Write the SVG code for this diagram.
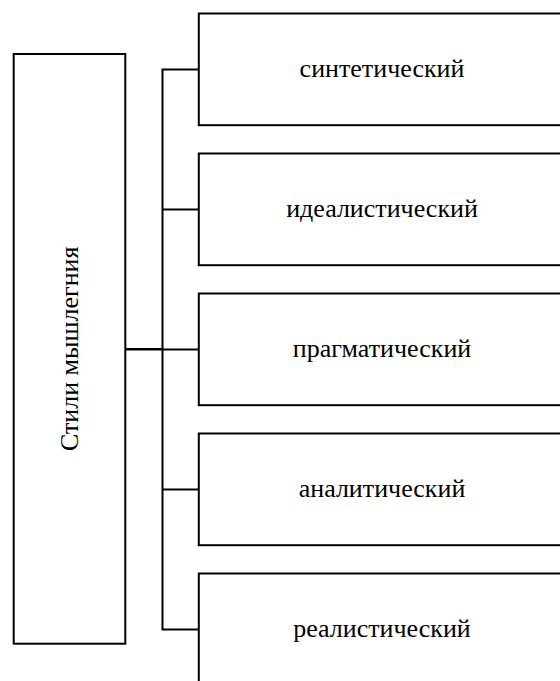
<svg xmlns="http://www.w3.org/2000/svg" width="560" height="681" viewBox="0 0 560 681">
<style>
.box{fill:#fff;stroke:#000;stroke-width:2}
.ln{fill:none;stroke:#000;stroke-width:2}
.t{font-size:26px;fill:#000;text-anchor:middle}
</style>
<rect width="560" height="681" fill="#fff"/>
<g id="connectors">
<path class="ln" d="M199 69.4H162.5V629.4H199"/>
<path class="ln" d="M162.5 209.4H199M162.5 489.4H199M162.5 349.4H199"/>
<path fill="none" stroke="#000" stroke-width="2.6" d="M125.3 349.3H162.5"/>
</g>
<g font-family="'Liberation Serif', 'Times New Roman', Times, serif">
<g id="main">
<rect class="box" x="13.7" y="54" width="111.6" height="589.7"/>
<text class="t" transform="translate(77.5 348.8) rotate(-90)" x="0" y="0">Стили мышлегния</text>
</g>
<g id="n1">
<rect class="box" x="198.8" y="13.5" width="380" height="111.7"/>
<text class="t" x="382" y="77.3">синтетический</text>
</g>
<g id="n2">
<rect class="box" x="198.8" y="153.5" width="380" height="111.7"/>
<text class="t" x="382" y="217.3">идеалистический</text>
</g>
<g id="n3">
<rect class="box" x="198.8" y="293.5" width="380" height="111.7"/>
<text class="t" x="382" y="357.3">прагматический</text>
</g>
<g id="n4">
<rect class="box" x="198.8" y="433.5" width="380" height="111.7"/>
<text class="t" x="382" y="497.3">аналитический</text>
</g>
<g id="n5">
<rect class="box" x="198.8" y="573.5" width="380" height="111.7"/>
<text class="t" x="382" y="637.3">реалистический</text>
</g>
</g>
</svg>
